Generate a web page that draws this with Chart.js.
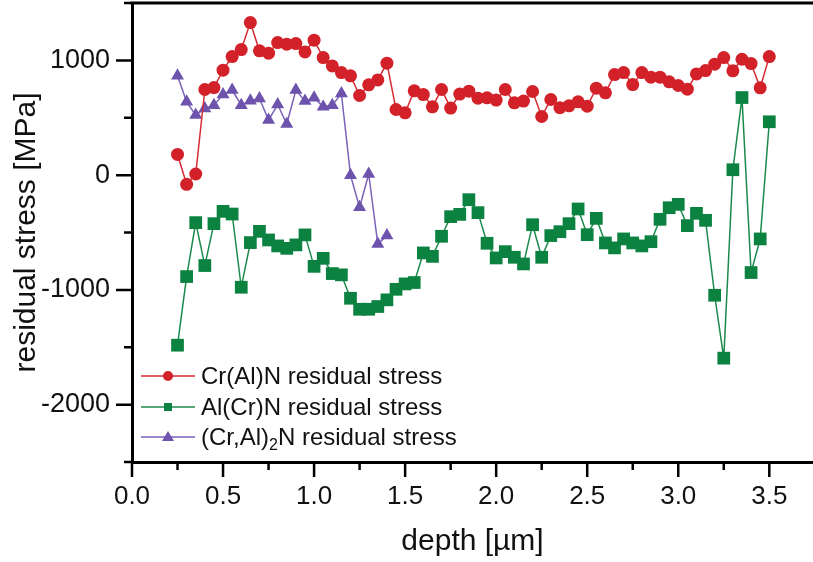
<!DOCTYPE html>
<html>
<head>
<meta charset="utf-8">
<script src="https://cdn.jsdelivr.net/npm/chart.js@4.4.1/dist/chart.umd.min.js"></script>
<style>
  body { margin: 0; background: #fff; }
  #wrap { position: relative; width: 813px; height: 562px; overflow: hidden; }
  #legend { position: absolute; left: 140px; top: 361px; font: 24px 'Liberation Sans', Arial, sans-serif; color: #111; }
  .row { height: 30.5px; display: flex; align-items: center; white-space: nowrap; }
  .row svg { width: 56px; height: 20px; margin-right: 5px; flex: none; }
  sub { font-size: 16px; vertical-align: -5px; line-height: 0; }
</style>
</head>
<body>
<div id="wrap">
  <canvas id="stressChart" width="813" height="562"></canvas>
  <div id="legend"></div>
</div>
<script>
// depth values [µm] shared by Cr(Al)N and Al(Cr)N
const depth = [0.25,0.30,0.35,0.40,0.45,0.50,0.55,0.60,0.65,0.70,0.75,0.80,0.85,0.90,0.95,1.00,
  1.05,1.10,1.15,1.20,1.25,1.30,1.35,1.40,1.45,1.50,1.55,1.60,1.65,1.70,1.75,1.80,1.85,1.90,1.95,2.00,
  2.05,2.10,2.15,2.20,2.25,2.30,2.35,2.40,2.45,2.50,2.55,2.60,2.65,2.70,2.75,2.80,2.85,2.90,2.95,3.00,
  3.05,3.10,3.15,3.20,3.25,3.30,3.35,3.40,3.45,3.50];

const crAlN = [180,-80,10,746,763,915,1033,1094,1329,1083,1063,1155,1141,1146,1074,1176,
  1024,952,894,865,694,787,830,976,572,543,735,702,595,746,584,706,732,671,674,654,
  746,630,645,729,511,659,588,604,639,601,758,717,876,894,789,894,854,854,813,781,
  749,882,911,967,1024,909,1010,972,761,1033];

const alCrN = [-1482,-884,-414,-788,-423,-316,-339,-977,-588,-490,-565,-617,-638,-608,-521,-795,
  -725,-858,-869,-1073,-1169,-1169,-1145,-1087,-995,-948,-936,-678,-708,-533,-362,-342,-214,-327,-594,-722,
  -667,-716,-774,-432,-716,-527,-493,-423,-295,-519,-377,-591,-634,-556,-591,-617,-580,-385,-284,-255,
  -440,-333,-394,-1047,-1595,47,676,-849,-556,465];

// (Cr,Al)2N only measured near the surface
const depthHex = [0.25,0.30,0.35,0.40,0.45,0.50,0.55,0.60,0.65,0.70,0.75,0.80,0.85,0.90,0.95,1.00,
  1.05,1.10,1.15,1.20,1.25,1.30,1.35,1.40];
const crAl2N = [865,639,523,581,610,702,741,610,648,668,480,615,445,741,645,674,
  595,610,711,0,-281,10,-600,-527];

const seriesNames = ['Cr(Al)N residual stress', 'Al(Cr)N residual stress', '(Cr,Al)<sub>2</sub>N residual stress'];
const colors = ['#d3212a', '#0c8241', '#6e53ad'];
const lineColors = ['#d52a33', '#1a8a4c', '#7a62b8'];

const toPoints = (xs, ys) => xs.map((x, i) => ({ x: x, y: ys[i] }));
const font = "'Liberation Sans', Arial, sans-serif";

// axis ticks (major / minor) and top frame line
const axisTicks = {
  id: 'axisTicks',
  afterDraw(chart) {
    const { ctx, chartArea, scales } = chart;
    ctx.save();
    ctx.strokeStyle = '#000';
    ctx.lineWidth = 3;
    ctx.beginPath();
    ctx.moveTo(chartArea.left - 1.5, chartArea.top);
    ctx.lineTo(chartArea.right, chartArea.top);
    ctx.stroke();

    ctx.lineWidth = 2.5;
    ctx.beginPath();
    scales.x.ticks.forEach(t => {
      const px = scales.x.getPixelForValue(t.value);
      const major = Math.abs(t.value * 2 - Math.round(t.value * 2)) < 1e-6;
      ctx.moveTo(px, chartArea.bottom);
      ctx.lineTo(px, chartArea.bottom + (major ? 15 : 8));
    });
    scales.y.ticks.forEach(t => {
      const py = scales.y.getPixelForValue(t.value);
      const major = t.value % 1000 === 0;
      ctx.moveTo(chartArea.left, py);
      ctx.lineTo(chartArea.left - (major ? 16 : 8), py);
    });
    ctx.stroke();
    ctx.restore();
  }
};

const ctx = document.getElementById('stressChart').getContext('2d');
new Chart(ctx, {
  type: 'scatter',
  data: {
    datasets: [
      { label: 'Cr(Al)N', data: toPoints(depth, crAlN), showLine: true,
        borderColor: lineColors[0], backgroundColor: colors[0], borderWidth: 1.5,
        pointStyle: 'circle', pointRadius: 6.5, pointBorderWidth: 0 },
      { label: 'Al(Cr)N', data: toPoints(depth, alCrN), showLine: true,
        borderColor: lineColors[1], backgroundColor: colors[1], borderWidth: 1.5,
        pointStyle: 'rect', pointRadius: 9, pointBorderWidth: 0 },
      { label: '(Cr,Al)2N', data: toPoints(depthHex, crAl2N), showLine: true,
        borderColor: lineColors[2], backgroundColor: colors[2], borderWidth: 1.5,
        pointStyle: 'triangle', pointRadius: 7.5, pointBorderWidth: 0 }
    ]
  },
  options: {
    responsive: false,
    animation: false,
    layout: { autoPadding: false, padding: { top: 3, left: 0, right: 0, bottom: 0 } },
    plugins: { legend: { display: false }, tooltip: { enabled: false } },
    scales: {
      x: {
        type: 'linear', min: 0, max: 3.74,
        afterFit: s => { s.height = 100; s.paddingLeft = 0; s.paddingRight = 0; },
        border: { display: true, color: '#000', width: 3 },
        grid: { display: true, drawOnChartArea: false, drawTicks: false },
        ticks: {
          stepSize: 0.25, includeBounds: false, autoSkip: false, maxRotation: 0, padding: 22,
          color: '#111', font: { family: font, size: 26, lineHeight: 1 },
          callback: v => Math.abs(v * 2 - Math.round(v * 2)) < 1e-6 ? v.toFixed(1) : ''
        },
        title: { display: true, text: 'depth [µm]', color: '#111',
          font: { family: font, size: 30, lineHeight: 1 }, padding: { top: 0, bottom: 5 } }
      },
      y: {
        type: 'linear', min: -2500, max: 1500,
        afterFit: s => { s.width = 132; s.paddingTop = 0; s.paddingBottom = 0; },
        border: { display: true, color: '#000', width: 3 },
        grid: { display: true, drawOnChartArea: false, drawTicks: false },
        ticks: {
          stepSize: 500, autoSkip: false, padding: 22,
          color: '#111', font: { family: font, size: 27, lineHeight: 1 },
          callback: v => v % 1000 === 0 ? String(v) : ''
        },
        title: { display: true, text: 'residual stress [MPa]', color: '#111',
          font: { family: font, size: 30, lineHeight: 1 }, padding: { top: 12, bottom: 0 } }
      }
    }
  },
  plugins: [axisTicks]
});

// legend: line + marker sample, like the original plot
const markers = [
  c => `<circle cx="28" cy="10" r="5" fill="${c}"/>`,
  c => `<rect x="24" y="6" width="8" height="8" fill="${c}"/>`,
  c => `<polygon points="28,4 34,14 22,14" fill="${c}"/>`
];
document.getElementById('legend').innerHTML = seriesNames.map((name, i) => `
  <div class="row">
    <svg viewBox="0 0 56 20"><line x1="1" y1="10" x2="55" y2="10" stroke="${lineColors[i]}" stroke-width="1.5"/>${markers[i](colors[i])}</svg>
    <span>${name}</span>
  </div>`).join('');
</script>
</body>
</html>
